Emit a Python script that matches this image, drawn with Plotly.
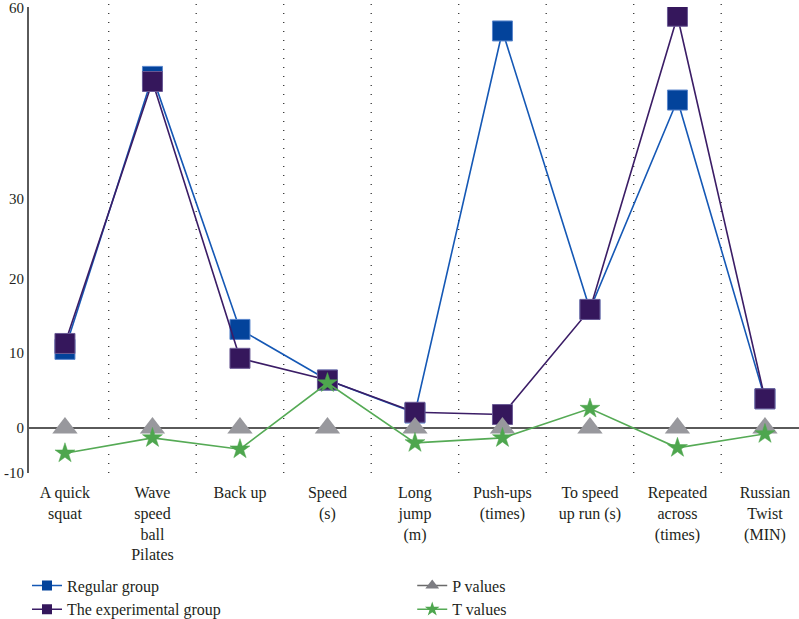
import numpy as np
import plotly.graph_objects as go

categories = ["A quick<br>squat", "Wave<br>speed<br>ball<br>Pilates", "Back up", "Speed<br>(s)",
              "Long<br>jump<br>(m)", "Push-ups<br>(times)", "To speed<br>up run (s)",
              "Repeated<br>across<br>(times)", "Russian<br>Twist<br>(MIN)"]
regular_group = [10.5, 49.2, 13.2, 6.4, 2.0, 56.3, 15.9, 45.5, 3.9]
experimental_group = [11.3, 48.4, 9.3, 6.4, 2.1, 1.8, 15.9, 58.6, 3.9]
p_values = [0, 0, 0, 0, 0, 0, 0, 0, 0]
t_values = [-5.6, -2.2, -4.7, 6.0, -3.3, -2.2, 2.6, -4.4, -1.3]
tick_values = [-10, 0, 10, 20, 30, 60]
tick_labels = ["-10", "0", "10", "20", "30", "60"]

# The original chart uses a non-uniform (broken) value axis; reproduce it with a piecewise map
axis_knots_value = [-10, 0, 10, 20, 30, 60]
axis_knots_pos = [-45, 0, 75, 149, 229, 421]


def scale(vals):
    return [float(v) for v in np.interp(vals, axis_knots_value, axis_knots_pos)]


FONT = "Liberation Serif, Times New Roman, serif"

BLUE_LINE, BLUE_FILL, BLUE_EDGE = "#1558b5", "#03439b", "#5a86cc"
PURP_LINE, PURP_FILL, PURP_EDGE = "#3b1d66", "#35175c", "#6b5a95"
GRAY = "#98989d"
GREEN_LINE, GREEN_FILL = "#55aa55", "#4ea64e"

fig = go.Figure()
fig.add_trace(go.Scatter(
    x=categories, y=scale(regular_group), name="Regular group", mode="lines+markers",
    line=dict(color=BLUE_LINE, width=1.6), showlegend=False,
    marker=dict(symbol="square", size=20, color=BLUE_FILL, line=dict(color=BLUE_EDGE, width=1))))
fig.add_trace(go.Scatter(
    x=categories, y=scale(experimental_group), name="The experimental group", mode="lines+markers",
    line=dict(color=PURP_LINE, width=1.6), showlegend=False,
    marker=dict(symbol="square", size=20, color=PURP_FILL, line=dict(color=PURP_EDGE, width=1))))
fig.add_trace(go.Scatter(
    x=categories, y=scale(p_values), name="P values", mode="markers", showlegend=False,
    marker=dict(symbol="triangle-up", size=22, color=GRAY)))
fig.add_trace(go.Scatter(
    x=categories, y=scale(t_values), name="T values", mode="lines+markers", showlegend=False,
    line=dict(color=GREEN_LINE, width=1.6),
    marker=dict(symbol="star", size=15, color=GREEN_FILL, line=dict(color=GREEN_FILL, width=0.5))))

# legend entries (key symbols only)
legend_items = [
    ("Regular group", "square", BLUE_FILL, BLUE_LINE, 10, "legend"),
    ("The experimental group", "square", PURP_FILL, PURP_LINE, 10, "legend"),
    ("P values", "triangle-up", "#7d7d82", "#6a6a6a", 12, "legend2"),
    ("T values", "star", GREEN_FILL, GREEN_LINE, 11, "legend2"),
]
for name, sym, fill, lc, sz, lg in legend_items:
    fig.add_trace(go.Scatter(x=[None], y=[None], name=name, mode="lines+markers",
                             line=dict(color=lc, width=1.5),
                             marker=dict(symbol=sym, size=sz, color=fill), legend=lg))

shapes = []
for i in range(len(categories) - 1):
    shapes.append(dict(type="line", xref="x", yref="paper", x0=i + 0.5, x1=i + 0.5, y0=0, y1=1.012,
                       line=dict(color="#333333", width=1.3, dash="1px,8px"), layer="below"))

fig.update_layout(
    width=799, height=619,
    margin=dict(l=29, r=0, t=7, b=146, autoexpand=False),
    paper_bgcolor="white", plot_bgcolor="white",
    font=dict(family=FONT, size=15, color="#231f20"),
    shapes=shapes,
    xaxis=dict(type="category", range=[-0.411, 8.389], showgrid=False, showline=False,
               zeroline=False, ticks="", ticklabelstandoff=8, tickangle=0, automargin=False,
               tickfont=dict(family=FONT, size=16, color="#231f20")),
    yaxis=dict(range=[-45, 421.3], showgrid=False, showline=True, linecolor="#5a5a5a", linewidth=2,
               zeroline=True, zerolinecolor="#5a5a5a", zerolinewidth=2, automargin=False,
               tickvals=scale(tick_values), ticktext=tick_labels, ticks="",
               ticklabeloverflow="allow",
               tickfont=dict(family=FONT, size=15, color="#231f20")),
    legend=dict(x=-0.0026, y=-0.205, xanchor="left", yanchor="top",
                orientation="v", bgcolor="rgba(0,0,0,0)",
                font=dict(family=FONT, size=16, color="#231f20"), tracegroupgap=0),
    legend2=dict(x=0.4977, y=-0.205, xanchor="left", yanchor="top",
                 orientation="v", bgcolor="rgba(0,0,0,0)",
                 font=dict(family=FONT, size=16, color="#231f20"), tracegroupgap=0),
)

fig.write_html(
    "out.html",
    config={"displayModeBar": False},
    post_script="document.body.style.margin='0';document.body.style.padding='0';"
                "document.body.style.overflow='hidden';",
)
